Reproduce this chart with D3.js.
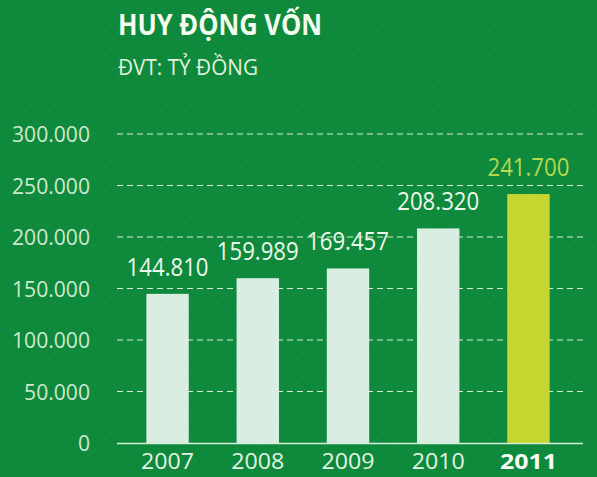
<!DOCTYPE html>
<html>
<head>
<meta charset="utf-8">
<script src="https://cdn.jsdelivr.net/npm/d3@7"></script>
<style>
  html, body { margin: 0; padding: 0; background: #0f8a3d; }
  svg { display: block; }
  text { font-family: "Open Sans", "Noto Sans", sans-serif; }
</style>
</head>
<body>
<svg id="chart" width="597" height="477"></svg>
<script>
// data
const years = ["2007", "2008", "2009", "2010", "2011"];
const values = [144810, 159989, 169457, 208320, 241700];
const yTicks = [0, 50000, 100000, 150000, 200000, 250000, 300000];

const width = 597, height = 477;
const svg = d3.select("#chart");

// background with faint diagonal texture
const defs = svg.append("defs");
const pat = defs.append("pattern")
    .attr("id", "tex")
    .attr("width", 16).attr("height", 16)
    .attr("patternUnits", "userSpaceOnUse")
    .attr("patternTransform", "rotate(45)");
pat.append("rect").attr("width", 16).attr("height", 16).attr("fill", "#0f8a3d");
pat.append("line").attr("x1", 0).attr("y1", 0).attr("x2", 0).attr("y2", 16)
    .attr("stroke", "#118e3f").attr("stroke-width", 2);
pat.append("line").attr("x1", 0).attr("y1", 8).attr("x2", 16).attr("y2", 8)
    .attr("stroke", "#0e873b").attr("stroke-width", 2);

svg.append("rect").attr("width", width).attr("height", height).attr("fill", "url(#tex)");

const fmt = v => d3.format(",")(v).replace(/,/g, ".");

// squeeze text horizontally so a sample string gets the wanted width
function condense(sel, sample, target) {
    const probe = svg.append("text")
        .attr("font-size", sel.attr("font-size"))
        .attr("font-weight", sel.attr("font-weight"))
        .style("font-family", sel.style("font-family"))
        .text(sample);
    const k = target / probe.node().getComputedTextLength();
    probe.remove();
    sel.each(function () {
        const w = this.getComputedTextLength();
        d3.select(this).attr("textLength", w * k).attr("lengthAdjust", "spacingAndGlyphs");
    });
}

const x = d3.scaleBand()
    .domain(years)
    .range([122, 574])
    .paddingInner(0.53)
    .paddingOuter(0.27);

const y = d3.scaleLinear()
    .domain([0, 300000])
    .range([443, 134]);

// title
const title = svg.append("text")
    .attr("x", 118).attr("y", 35)
    .attr("fill", "#f4fbef")
    .attr("font-size", 28)
    .attr("font-weight", "bold")
    .text("HUY ĐỘNG VỐN");
condense(title, "HUY ĐỘNG VỐN", 204);

const sub = svg.append("text")
    .attr("x", 118).attr("y", 75)
    .attr("fill", "#e2f3df")
    .attr("font-size", 21)
    .text("ĐVT: TỶ ĐỒNG");
condense(sub, "ĐVT: TỶ ĐỒNG", 140);

// gridlines
svg.append("g")
    .selectAll("line")
    .data(yTicks.filter(d => d > 0))
    .join("line")
    .attr("x1", 117).attr("x2", 586)
    .attr("y1", d => y(d)).attr("y2", d => y(d))
    .attr("stroke", "#d6eed8")
    .attr("stroke-width", 1.2)
    .attr("stroke-dasharray", "6,4");

// bars
svg.append("g")
    .selectAll("rect")
    .data(values)
    .join("rect")
    .attr("x", (d, i) => x(years[i]))
    .attr("width", x.bandwidth())
    .attr("y", d => y(d))
    .attr("height", d => y(0) - y(d))
    .attr("fill", (d, i) => i === years.length - 1 ? "#c6d631" : "#d9ede2");

// baseline
svg.append("line")
    .attr("x1", 117).attr("x2", 583)
    .attr("y1", y(0) + 0.5).attr("y2", y(0) + 0.5)
    .attr("stroke", "#d6eed8")
    .attr("stroke-width", 1.5);

// y axis labels
const yAxis = d3.axisLeft(y).tickValues(yTicks).tickSize(0).tickPadding(0)
    .tickFormat(d => d === 0 ? "0" : fmt(d));
const ya = svg.append("g").attr("transform", "translate(90,0)").call(yAxis);
ya.select(".domain").remove();
const yText = ya.selectAll("text")
    .attr("fill", "#cfe8cf")
    .attr("font-size", 22)
    .attr("font-family", null)
    .attr("dy", "0.36em");
condense(yText, "300.000", 78);

// x axis labels
const xAxis = d3.axisBottom(x).tickSize(0).tickPadding(0);
const xa = svg.append("g").attr("transform", `translate(0,${y(0)})`).call(xAxis);
xa.select(".domain").remove();
const xText = xa.selectAll("text")
    .attr("y", 26)
    .attr("dy", 0)
    .attr("font-family", null)
    .attr("fill", "#e4f3e2")
    .attr("font-size", 22);
condense(xText.filter(d => d !== "2011"), "2007", 53);
const last = xText.filter(d => d === "2011")
    .attr("fill", "#f6fbf4")
    .attr("font-weight", "bold")
    .attr("font-size", 22);
condense(last, "2011", 57);

// value labels
const vals = svg.append("g")
    .selectAll("text")
    .data(values)
    .join("text")
    .attr("x", (d, i) => x(years[i]) + x.bandwidth() / 2)
    .attr("y", d => y(d) - 18)
    .attr("text-anchor", "middle")
    .attr("font-size", 25)
    .attr("fill", (d, i) => i === years.length - 1 ? "#b6d84e" : "#eef8ea")
    .text(d => fmt(d));
condense(vals, "144.810", 82);
</script>
</body>
</html>
